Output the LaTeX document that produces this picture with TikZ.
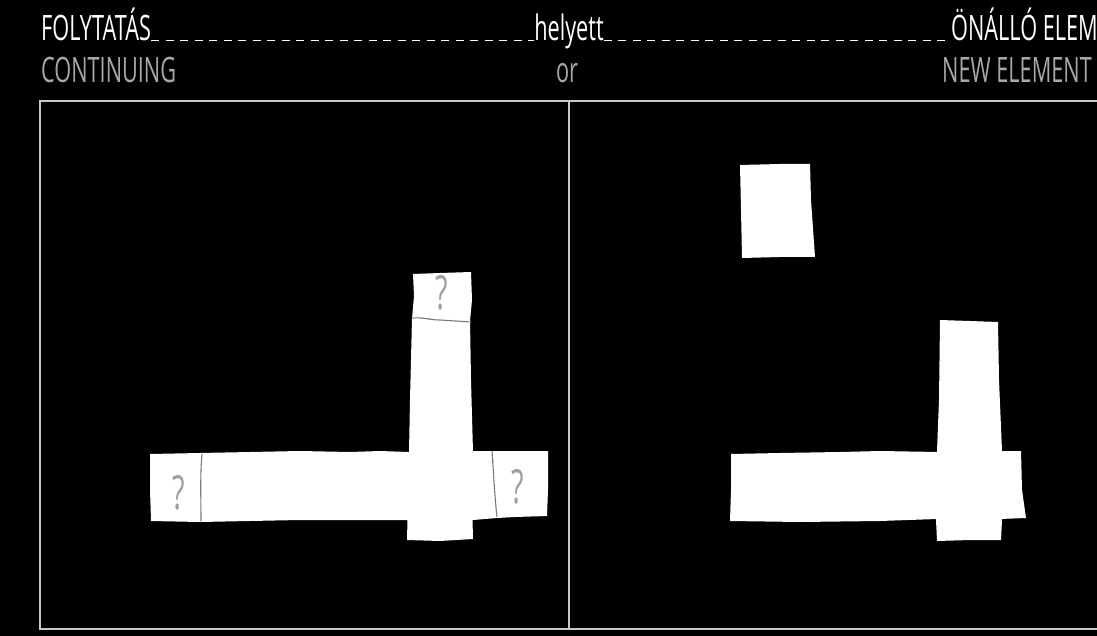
\documentclass[tikz,border=0pt]{standalone}
\usepackage{fontspec}
\newfontfamily\condfont{Open Sans}[FakeStretch=0.62]
\definecolor{framegray}{HTML}{C8C8C8}
\definecolor{subgray}{HTML}{A8A8A8}
\definecolor{qgray}{HTML}{A0A0A0}
\definecolor{divgray}{HTML}{7A7A7A}
\begin{document}
\begin{tikzpicture}[x=1pt,y=-1pt,
  title/.style={inner sep=0pt,anchor=base west,text=white,font=\condfont\fontsize{35}{38}\selectfont},
  subtitle/.style={inner sep=0pt,anchor=base west,text=subgray,font=\condfont\fontsize{35}{38}\selectfont},
  qmark/.style={inner sep=0pt,anchor=base,text=qgray,font=\condfont\fontsize{47}{50}\selectfont},
  dashline/.style={white,line width=1pt,dash pattern=on 8pt off 6.5pt},
  frameline/.style={framegray,line width=1.6pt},
  paper/.style={fill=white},
  divider/.style={divgray,line width=1.1pt}]
\fill[black] (0,0) rectangle (1097,636);
\useasboundingbox (0,0) rectangle (1097,636);
% headings
\node[title] (t1) at (41,41) {FOLYTATÁS};
\node[title,anchor=base] (t2) at (569,41) {helyett};
\node[title] (t3) at (951,41) {ÖNÁLLÓ ELEM};
\node[subtitle] (s1) at (41,83) {CONTINUING};
\node[subtitle,anchor=base] (s2) at (567,83) {or};
\node[subtitle,anchor=base east] (s3) at (1092,83) {NEW ELEMENT};
\draw[dashline] (t1.base east) -- (t2.base west);
\draw[dashline] (t2.base east) -- (t3.base west);
% frame
\draw[frameline] (1100,101) -- (40,101) -- (40,629) -- (1100,629);
\draw[frameline] (569,101) -- (569,629);
% left panel
\fill[paper] (413,274) -- (440,273) -- (471,272) -- (472,300) -- (470,321) -- (440,320) -- (425,318) -- (412,319) -- (414,296) -- cycle;
\fill[paper] (412,318) -- (470,320) -- (471,380) -- (473,452) -- (472,500) -- (473,539) -- (440,541) -- (407,540) -- (408,500) -- (409,452) -- (410,400) -- cycle;
\fill[paper] (150,454) -- (200,453) -- (250,452) -- (300,451) -- (350,452) -- (380,451) -- (409,452) -- (493,451) -- (497,518) -- (473,520) -- (400,520) -- (300,520) -- (200,522) -- (151,521) -- (150,490) -- cycle;
\fill[paper] (493,451) -- (548,451) -- (548,490) -- (547,516) -- (515,517) -- (497,518) -- (494,485) -- cycle;
\draw[divider] (412,318) .. controls (425,317) and (428,320) .. (440,320) -- (471,322);
\draw[divider] (202,454) .. controls (200,475) and (201,500) .. (201,521);
\draw[divider] (492,451) .. controls (494,480) and (495,500) .. (497,517);
\node[qmark] (q1) at (442,309) {?};
\node[qmark] (q2) at (179,509) {?};
\node[qmark] (q3) at (518,503) {?};
% right panel
\fill[paper] (740,165) -- (780,164) -- (810,164) -- (811,200) -- (815,257) -- (780,257) -- (742,258) -- (741,210) -- cycle;
\fill[paper] (940,320) -- (970,321) -- (998,322) -- (999,380) -- (1002,451) -- (1002,520) -- (1001,540) -- (970,540) -- (937,541) -- (936,520) -- (937,451) -- (939,400) -- cycle;
\fill[paper] (731,454) -- (780,453) -- (840,452) -- (880,451) -- (938,452) -- (1021,451) -- (1022,490) -- (1026,518) -- (1000,519) -- (937,519) -- (880,521) -- (800,522) -- (730,521) -- (731,490) -- cycle;
\end{tikzpicture}
\end{document}
